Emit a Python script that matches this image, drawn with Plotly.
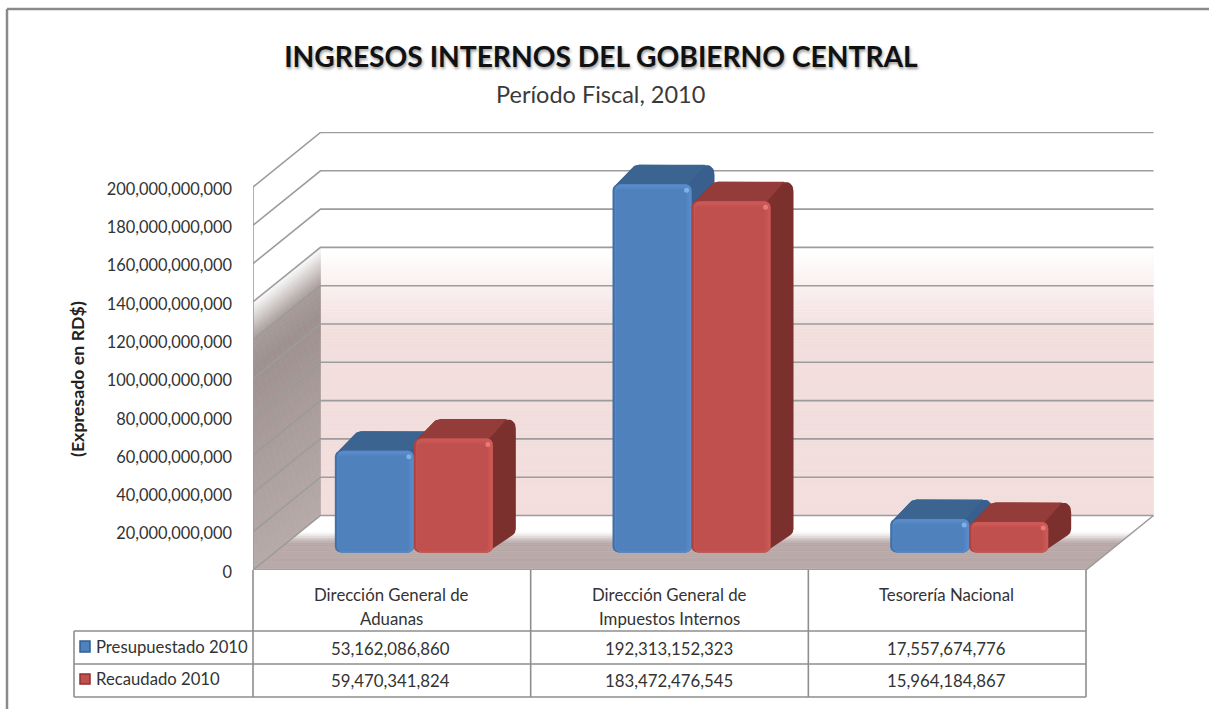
import plotly.graph_objects as go

categories = ["Dirección General de<br>Aduanas", "Dirección General de<br>Impuestos Internos", "Tesorería Nacional"]
presupuestado = [53162086860, 192313152323, 17557674776]
recaudado = [59470341824, 183472476545, 15964184867]
series_names = ["Presupuestado 2010", "Recaudado 2010"]
y_ticks = list(range(0, 200000000001, 20000000000))

W, H = 1209, 709
X0, Y0 = 253, 570          # front-left corner of the floor
CAT_PX = 277.67            # px per category
VAL_PX = 383 / 200e9       # px per unit of value
WALL_DX, WALL_DY = 67.5, 54.5  # depth of the box in px
BAR_DEPTH_X, BAR_DEPTH_Y = 22, 17.5  # bar front face offset into the box
BAR_W_PX = 79
BAR_DX, BAR_DY = 23, 19.5  # depth of a bar

def cx(px):
    return px / CAT_PX
def vy(px):
    return px / VAL_PX
def xp(px):
    return px / W
def yp(px):
    return 1 - px / H

def lerp_hex(a, b, t):
    a = [int(a[i:i+2], 16) for i in (1, 3, 5)]
    b = [int(b[i:i+2], 16) for i in (1, 3, 5)]
    return "rgb(%d,%d,%d)" % tuple(round(p + (q - p) * t) for p, q in zip(a, b))

def ramp(v, stops):
    for (v0, c0), (v1, c1) in zip(stops, stops[1:]):
        if v <= v1:
            return lerp_hex(c0, c1, (v - v0) / (v1 - v0))
    return stops[-1][1]

def poly(points, color):
    path = "M" + " L".join(f"{x:.5f},{y:.1f}" for x, y in points) + " Z"
    return dict(type="path", path=path, xref="x", yref="y", fillcolor=color,
                line=dict(width=0.6, color=color), layer="below")

def rounded(points, r):
    """Polygon in data units with corners (index -> radius px) rounded."""
    out = []
    n = len(points)
    for i, p in enumerate(points):
        rad = r.get(i, 0)
        if not rad:
            out.append(p)
            continue
        a, b = points[i - 1], points[(i + 1) % n]
        def along(q):
            dx, dy = (q[0] - p[0]) * CAT_PX, (q[1] - p[1]) * VAL_PX
            L = (dx * dx + dy * dy) ** 0.5
            s = min(rad / L, 0.5)
            return (p[0] + (q[0] - p[0]) * s, p[1] + (q[1] - p[1]) * s)
        s, e = along(a), along(b)
        for k in range(9):
            t = k / 8
            out.append(((1 - t) ** 2 * s[0] + 2 * t * (1 - t) * p[0] + t ** 2 * e[0],
                        (1 - t) ** 2 * s[1] + 2 * t * (1 - t) * p[1] + t ** 2 * e[1]))
    return out

shapes = []
XR = 3.0
DX, DY = cx(WALL_DX), vy(WALL_DY)
TOP = 200e9

back_stops = [(0, "#F2DEDC"), (95e9, "#F2DEDC"), (139e9, "#FFFFFF"), (200e9, "#FFFFFF")]
left_stops = [(0, "#B5A9A7"), (60e9, "#A89B99"), (105e9, "#9C8F8D"), (120e9, "#A69A98"), (141e9, "#FFFFFF"), (200e9, "#FFFFFF")]
STEP = 1.5e9
v = 0
while v < 142e9:
    shapes.append(poly([(DX, v + DY), (XR + DX, v + DY), (XR + DX, v + STEP + DY), (DX, v + STEP + DY)],
                       ramp(v + STEP / 2, back_stops)))
    v += STEP
# floor
floor_stops = [(0, "#B8A8A7"), (0.5, "#B8A8A7"), (0.7, "#FFFFFF"), (1, "#FFFFFF")]
N = 30
for i in range(N):
    f0, f1 = i / N, (i + 1) / N
    shapes.append(poly([(DX * f0, DY * f0), (XR + DX * f0, DY * f0), (XR + DX * f1, DY * f1), (DX * f1, DY * f1)],
                       ramp((f0 + f1) / 2, floor_stops)))
# left wall
v = 0
while v < 142e9:
    shapes.append(poly([(0, v), (DX, v + DY), (DX, v + STEP + DY), (0, v + STEP)],
                       ramp(v + STEP / 2, left_stops)))
    v += STEP
# grid lines
GRID = dict(color="#9C9C9C", width=1.6)
for t in y_ticks:
    shapes.append(dict(type="path", xref="x", yref="y", layer="below", line=GRID,
                       path=f"M0,{t} L{DX:.5f},{t + DY:.1f} L{XR + DX:.5f},{t + DY:.1f}"))
shapes.append(dict(type="path", xref="x", yref="y", layer="below", line=GRID,
                   path=f"M0,0 L{XR:.5f},0 L{XR + DX:.5f},{DY:.1f}"))
shapes.append(dict(type="path", xref="x", yref="y", layer="below", line=GRID,
                   path=f"M0,0 L0,{TOP:.1f}"))

def px_line(x0, y0, x1, y1, color="#8E8E8E", width=1.6):
    shapes.append(dict(type="line", xref="paper", yref="paper", x0=xp(x0), y0=yp(y0), x1=xp(x1), y1=yp(y1),
                       line=dict(color=color, width=width), layer="above"))

# table
col_edges = [X0 + CAT_PX * i for i in range(4)]
RT, R1, R2, R3 = 570, 631, 664, 697
for ce in col_edges:
    px_line(ce, RT, ce, R3)
px_line(74, R1, 74, R3)
for ry in (R1, R2, R3):
    px_line(74, ry, col_edges[-1], ry)
# outer frame
px_line(7, 9, W, 9, "#8A8A8A", 2.5)
px_line(7, 9, 7, H, "#8A8A8A", 2.5)
# legend keys
for (ky0, ky1, c0, c1) in [(641, 652, "#2F5F99", "#4F81BD"), (674, 684, "#8E2F2C", "#C0504D")]:
    shapes.append(dict(type="rect", xref="paper", yref="paper", x0=xp(80), x1=xp(90), y0=yp(ky1), y1=yp(ky0),
                       fillcolor=c1, line=dict(color=c0, width=1.5), layer="above"))

annotations = []
def text(x, y, s, size=16.8, color="#333333", **kw):
    annotations.append(dict(x=xp(x), y=yp(y), xref="paper", yref="paper", text=s, showarrow=False,
                            font=dict(size=size, color=color, family="Lato"), **kw))

text(600.5, 94, "Período Fiscal, 2010", size=23.5, color="#3A3A3A", xanchor="center", yanchor="middle")
text(77, 379, "<b>(Expresado en RD$)</b>", size=17.8, color="#222222", textangle=-90, xanchor="center", yanchor="middle")
for i, c in enumerate(categories):
    cc = X0 + CAT_PX * (i + 0.5)
    lines = c.split("<br>")
    for j, ln in enumerate(lines):
        text(cc - 0.5, 594 + 24 * j, ln, xanchor="center", yanchor="middle")
    text(cc - 1, 648, f"{presupuestado[i]:,}", size=16.8, xanchor="center", yanchor="middle")
    text(cc - 1, 680, f"{recaudado[i]:,}", size=16.8, xanchor="center", yanchor="middle")
text(94, 647, series_names[0], size=16.7, xanchor="left", yanchor="middle")
text(94, 679, series_names[1], size=16.7, xanchor="left", yanchor="middle")

fig = go.Figure()

STYLES = [
    dict(top="#3B6491", side="#385F8E",
         layers=[(0, 0, 0, 0, "#4170A8", 6), (1.5, 0, 0, 0, "#4676B0", 6), (2.5, 0, 0, 0, "#5A8BC9", 6),
                 (3, 2.5, 3, 0.5, "#5586C3", 5), (3.5, 5, 5, 1.5, "#4F81BD", 3)], spot="#8CC0F2"),
    dict(top="#933C39", side="#7B302E",
         layers=[(0, 0, 0, 0, "#AC4542", 6), (1.5, 0, 0, 0, "#B34A47", 6), (2.5, 0, 0, 0, "#CC5955", 6),
                 (3, 2.5, 3, 0.5, "#C65551", 5), (3.5, 5, 5, 1.5, "#C0504D", 3)], spot="#F08A84"),
]
BASE = vy(BAR_DEPTH_Y)
AXES = [(("x2", "y2"), ("x3", "y3")), (("x4", "y4"), ("x5", "y5"))]
for s, (values, st) in enumerate(zip([presupuestado, recaudado], STYLES)):
    (xb, yb), (xf, yf) = AXES[s]
    lefts = [i + 0.5 + cx(BAR_DEPTH_X) + (s - 1) * cx(BAR_W_PX) for i in range(3)]
    # depth faces, one overlay below the front faces of the same series
    for l, v in zip(lefts, values):
        top = v + BASE
        x0, x1 = l, l + cx(BAR_W_PX)
        dx, dy = cx(BAR_DX), vy(BAR_DY)
        sil = rounded([(x0 + cx(1), top - vy(3)), (x0 + dx - cx(1), top + dy), (x1 + dx, top + dy),
                       (x1 + dx, BASE + dy), (x1 - cx(6), BASE), (x1 - cx(6), top - vy(3))],
                      {1: 6, 2: 10, 3: 4})
        tp = rounded([(x0 + cx(1), top - vy(3)), (x0 + dx - cx(1), top + dy), (x1 + dx - cx(9), top + dy), (x1 - cx(6), top - vy(3))],
                     {1: 6})
        for pts, col in ((sil, st["side"]), (tp, st["top"])):
            fig.add_scatter(x=[p[0] for p in pts] + [pts[0][0]], y=[p[1] for p in pts] + [pts[0][1]],
                            mode="lines", line=dict(width=0), fill="toself", fillcolor=col,
                            showlegend=False, hoverinfo="skip", xaxis=xb, yaxis=yb)
    # front faces
    for l_in, r_in, t_in, b_in, color, rad in st["layers"]:
        fig.add_bar(x=[l + cx(l_in + (BAR_W_PX - l_in - r_in) / 2) for l in lefts],
                    y=[v - vy(t_in + b_in) for v in values],
                    base=[BASE + vy(b_in)] * 3,
                    width=[cx(BAR_W_PX - l_in - r_in)] * 3,
                    marker=dict(color=color, line=dict(width=0), cornerradius=rad),
                    name=series_names[s], showlegend=False, hoverinfo="skip", xaxis=xf, yaxis=yf)
    fig.add_scatter(x=[l + cx(BAR_W_PX - 5) for l in lefts], y=[v + BASE - vy(6) for v in values],
                    mode="markers", marker=dict(size=5, color=st["spot"], opacity=0.75, line=dict(width=0)),
                    showlegend=False, hoverinfo="skip", xaxis=xf, yaxis=yf)

xrange = [0, (1155 - X0) / CAT_PX]
yrange = [0, (Y0 - 132) / VAL_PX]
xdom = [X0 / W, 1155 / W]
ydom = [1 - Y0 / H, 1 - 132 / H]
hidden_x = dict(range=xrange, domain=xdom, visible=False, fixedrange=True)
hidden_y = dict(range=yrange, domain=ydom, visible=False, fixedrange=True)
overlays = {}
for n in (2, 3, 4, 5):
    overlays[f"xaxis{n}"] = dict(hidden_x, overlaying="x")
    overlays[f"yaxis{n}"] = dict(hidden_y, overlaying="y")

fig.update_layout(
    width=W, height=H, autosize=False,
    margin=dict(l=0, r=0, t=0, b=0, autoexpand=False),
    paper_bgcolor="white", plot_bgcolor="rgba(0,0,0,0)",
    barmode="overlay", showlegend=False,
    title=dict(text="<b>INGRESOS INTERNOS DEL GOBIERNO CENTRAL</b>", x=601 / W, y=1 - 57 / H,
               xanchor="center", yanchor="middle", xref="paper", yref="paper",
               font=dict(family="Lato", size=28.2, color="#111111", shadow="1px 2px 3px #999999")),
    xaxis=dict(hidden_x),
    yaxis=dict(range=yrange, domain=ydom, tickmode="array", tickvals=y_ticks,
               ticktext=[f"{t:,}" for t in y_ticks], showgrid=False, zeroline=False, showline=False,
               ticks="", ticklabelstandoff=20, ticklabelshift=2,
               tickfont=dict(family="Lato", size=16.4, color="#333333"), fixedrange=True),
    shapes=shapes, annotations=annotations,
    **overlays,
)

fig.write_html("out.html", config=dict(displayModeBar=False),
               post_script="document.body.style.margin='0';document.body.style.overflow='hidden';")
